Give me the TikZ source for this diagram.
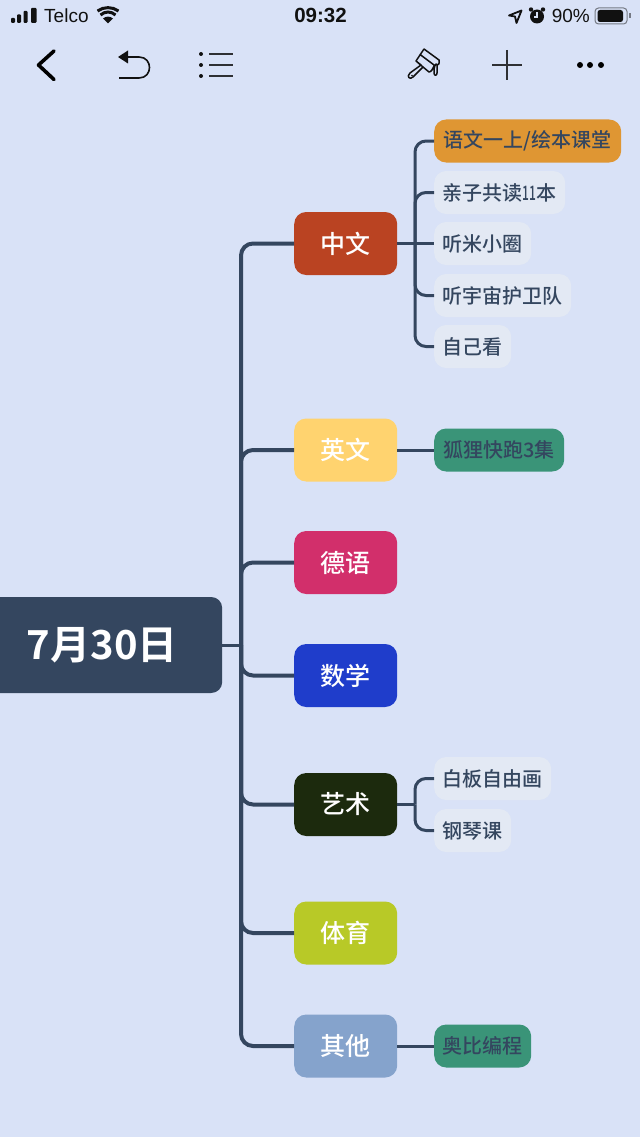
\documentclass[tikz,border=0pt]{standalone}
\usepackage{fontspec}
\setmainfont{Liberation Sans}
\newfontfamily\cjk{Noto Sans CJK SC Medium}[BoldFont={Noto Sans CJK SC Bold}]
\definecolor{bgc}{HTML}{D9E2F7}
\definecolor{linec}{HTML}{34465F}
\definecolor{cZh}{HTML}{BA4322}
\definecolor{cEn}{HTML}{FFD36F}
\definecolor{cDe}{HTML}{D22F6B}
\definecolor{cMa}{HTML}{1F3DCB}
\definecolor{cAr}{HTML}{1C2A0D}
\definecolor{cSp}{HTML}{B8C927}
\definecolor{cOt}{HTML}{85A3CC}
\definecolor{cOr}{HTML}{DF9633}
\definecolor{cLi}{HTML}{E3E9F4}
\definecolor{cGr}{HTML}{3A9478}
\definecolor{iconc}{HTML}{111111}
\tikzset{
  x=1pt,y=-1pt,
  rootbox/.style={fill=linec,rounded corners=11pt,text=white,minimum width=234pt,minimum height=96pt,inner sep=0pt,font=\cjk\bfseries\fontsize{40}{40}\selectfont,anchor=west},
  mainbox/.style={fill=#1,rounded corners=12pt,text=white,minimum width=103pt,minimum height=63pt,inner sep=0pt,font=\cjk\fontsize{25}{25}\selectfont,anchor=west},
  subbox/.style={fill=cLi,rounded corners=12pt,text=linec,minimum height=43pt,inner sep=0pt,font=\cjk\fontsize{20}{20}\selectfont,anchor=west},
  trunk/.style={draw=linec,line width=4pt,rounded corners=12pt},
  twig/.style={draw=linec,line width=3pt,rounded corners=11pt},
  statustext/.style={inner sep=0pt,text=iconc,font=\fontsize{19}{19}\selectfont},
}
\begin{document}
\begin{tikzpicture}
\useasboundingbox[fill=bgc] (0,0) rectangle (640,1137);
\clip (0,0) rectangle (640,1137);
% nodes
\node[rootbox] (root) at (-12,645) {7月30日\hspace*{6pt}};
\node[mainbox=cZh] (zh) at (294,243.5) {中文};
\node[mainbox=cEn] (en) at (294,450) {英文};
\node[mainbox=cDe] (de) at (294,562.5) {德语};
\node[mainbox=cMa] (ma) at (294,675.5) {数学};
\node[mainbox=cAr] (ar) at (294,804.5) {艺术};
\node[mainbox=cSp] (sp) at (294,933) {体育};
\node[mainbox=cOt] (ot) at (294,1046) {其他};
\node[subbox,fill=cOr,minimum width=187pt] (z1) at (434,141) {语文一上/绘本课堂};
\node[subbox,minimum width=131pt] (z2) at (434,192.5) {亲子共读\scalebox{0.6}[1]{11}本};
\node[subbox,minimum width=97pt] (z3) at (434,243.5) {听米小圈};
\node[subbox,minimum width=137pt] (z4) at (434,295.5) {听宇宙护卫队};
\node[subbox,minimum width=77pt] (z5) at (434,346.5) {自己看};
\node[subbox,fill=cGr,minimum width=130pt] (e1) at (434,450) {狐狸快跑3集};
\node[subbox,minimum width=117pt] (a1) at (434,778.5) {白板自由画};
\node[subbox,minimum width=77pt] (a2) at (434,830.5) {钢琴课};
\node[subbox,fill=cGr,minimum width=97pt] (o1) at (434,1046) {奥比编程};
% connectors
\coordinate (jroot) at (241,645);
\coordinate (jzh) at (415,243.5);
\coordinate (jar) at (415,804.5);
\draw[draw=linec,line width=3pt] (root.east) -- (jroot);
\foreach \t in {zh,en,de,ma,ar,sp,ot} \draw[trunk] (jroot) |- (\t.west);
\draw[twig] (zh.east) -- (z3.west);
\foreach \t in {z1,z2,z4,z5} \draw[twig] (jzh) |- (\t.west);
\draw[twig] (en.east) -- (e1.west);
\draw[twig] (ar.east) -- (jar);
\foreach \t in {a1,a2} \draw[twig] (jar) |- (\t.west);
\draw[twig] (ot.east) -- (o1.west);
% status bar
\fill[iconc,rounded corners=1pt] (11,18) rectangle (15,23);
\fill[iconc,rounded corners=1pt] (17,14.5) rectangle (21,23);
\fill[iconc,rounded corners=1pt] (23.5,11) rectangle (27.5,23);
\fill[iconc,rounded corners=1pt] (31,8) rectangle (36.5,23);
\node[statustext,anchor=base west] (telco) at (44,22.5) {Telco};
\fill[iconc] (108,23.5) -- (103,18.5) .. controls (106,16) and (110,16) .. (113,18.5) -- cycle;
\draw[iconc,line width=3pt] (100.5,15) .. controls (105,11) and (111,11) .. (115.5,15);
\draw[iconc,line width=3pt] (97.5,11) .. controls (103.5,6.5) and (112.5,6.5) .. (118.5,11);
\node[statustext,anchor=base,font=\bfseries\fontsize{20.5}{20.5}\selectfont] (clock) at (320.5,22.5) {09:32};
\draw[iconc,line width=1.8pt,line join=round] (509,15.5) -- (521.5,10.5) -- (516.5,23) -- (515,16.5) -- cycle;
\fill[iconc] (537,16.5) circle[radius=7];
\fill[iconc] (531,9.5) circle[radius=2.2];
\fill[iconc] (543,9.5) circle[radius=2.2];
\draw[bgc,line width=1.2pt] (537,12.5) -- (537,17) -- (533.5,17);
\node[statustext,anchor=base east] (pct) at (590,22.5) {90\%};
\draw[draw=iconc!50!bgc,line width=1pt,rounded corners=3.5pt] (595,8) rectangle (627,24);
\fill[iconc,rounded corners=2.5pt] (597.5,10) rectangle (623,22);
\fill[iconc!50!bgc] (629,13.5) rectangle (631,18.5);
% toolbar
\draw[draw=black,line width=3.6pt,line cap=round,line join=round] (54,51) -- (38.5,65) -- (54,79.5);
\fill[iconc] (118,57) -- (128,50.5) -- (128,63.5) -- cycle;
\draw[iconc,line width=1.6pt] (127,57) -- (139,57) .. controls (153,57) and (153,78) .. (139,78) -- (119,78);
\foreach \yy in {54,65,76} {
  \fill[iconc] (201,\yy) circle[radius=2];
  \draw[iconc!85!bgc,line width=1.6pt] (209,\yy) -- (233,\yy);
}
\draw[iconc,line width=1.5pt,line join=round,line cap=round]
  (424,49) -- (439,60) .. controls (440,64) and (438,66) .. (436,64) .. controls (434,66) and (434,70) .. (434,73) .. controls (434,76) and (437,76) .. (437,73) -- (437,65)
  (424,49) -- (416,61) -- (421,65) -- (410,73) .. controls (406,77) and (410,80) .. (413,77) -- (423,67) -- (429,72) .. controls (431,72) and (433,69) .. (434,66)
  (420,54.5) -- (434,65)
  (416,61) -- (423,67);
\fill[iconc] (412,75.5) circle[radius=0.9];
\draw[iconc!85!bgc,line width=1.6pt] (492,65) -- (522,65) (507,50) -- (507,80);
\foreach \xx in {580,590,601} \fill[black] (\xx,65) circle[radius=3];
\end{tikzpicture}
\end{document}
